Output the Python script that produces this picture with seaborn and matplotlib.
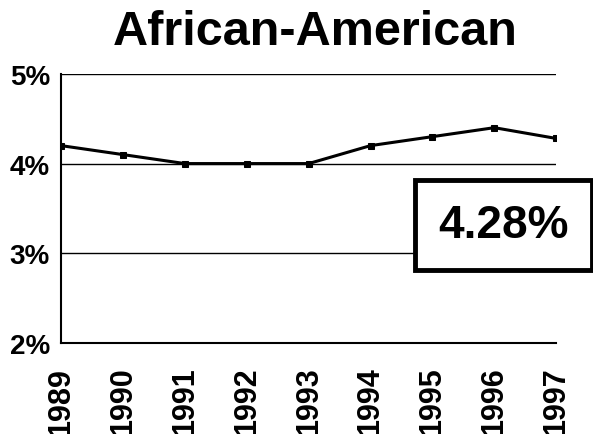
import pandas as pd
import matplotlib
matplotlib.use("Agg")
import matplotlib.pyplot as plt
import seaborn as sns

years = [1989, 1990, 1991, 1992, 1993, 1994, 1995, 1996, 1997]
share = [4.2, 4.1, 4.0, 4.0, 4.0, 4.2, 4.3, 4.4, 4.28]
y_ticks = [2, 3, 4, 5]
title = "African-American"
latest = "4.28%"

sns.set_style("white")
plt.rcParams["font.family"] = ["Liberation Sans", "DejaVu Sans"]
plt.rcParams["text.color"] = "black"

data = pd.DataFrame({"year": years, "share": share})

fig = plt.figure(figsize=(5.93, 4.35), dpi=100)
ax = fig.add_axes([0.103, 0.209, 0.835, 0.619])

# grid lines at 3, 4, 5 percent
for v in y_ticks[1:]:
    ax.axhline(v, color="black", lw=1.0, zorder=1)

sns.lineplot(data=data, x="year", y="share", ax=ax, color="black",
             lw=2.2, marker="s", markersize=5, markeredgecolor="black", zorder=3)

ax.set_xlim(years[0], years[-1])
ax.set_ylim(2, 5)
ax.set_xticks(years)
ax.set_xticklabels([str(y) for y in years], rotation=90, fontsize=22, fontweight="heavy")
ax.set_yticks(y_ticks)
ax.set_yticklabels([f"{v}%" for v in y_ticks], fontsize=20, fontweight="heavy")
ax.set_xlabel("")
ax.set_ylabel("")

for s in ["top", "right"]:
    ax.spines[s].set_visible(False)
for s in ["left", "bottom"]:
    ax.spines[s].set_linewidth(1.5)
    ax.spines[s].set_color("black")

ax.tick_params(axis="x", direction="inout", length=18, width=1.2, pad=8,
               colors="black", labelcolor="black")
ax.tick_params(axis="y", direction="out", length=0, pad=8,
               colors="black", labelcolor="black")

ax.text(0.762, 0.44, latest, transform=ax.transAxes, fontsize=33, fontweight="bold",
        color="black", ha="left", va="center", zorder=5, clip_on=False,
        bbox=dict(boxstyle="square,pad=0.5", facecolor="white", edgecolor="black", lw=3.5))

fig.text(0.531, 0.925, title, ha="center", va="center", fontsize=35,
         fontweight="bold", color="black")

fig.savefig("out.png", dpi=100)
